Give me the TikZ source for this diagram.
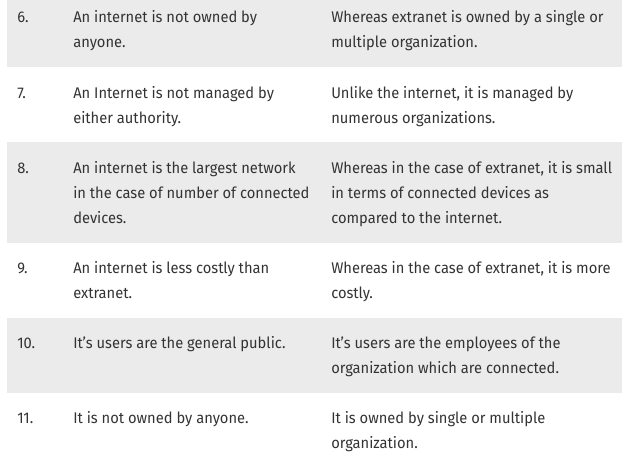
\documentclass[tikz,border=0pt]{standalone}
\usepackage{fontspec}
\setmainfont{Fira Sans}[FakeStretch=0.95]
\definecolor{rowgrey}{HTML}{EBEBEB}
\definecolor{txt}{HTML}{333333}
\tikzset{
  x=0.75pt, y=-0.75pt,
  cell/.style={anchor=base west, inner sep=0pt, text=txt, font=\fontsize{11.6}{18.75}\selectfont},
  band/.style={fill=rowgrey, draw=none}
}
\newcommand{\cellbox}[2]{\parbox[t]{#1pt}{\raggedright\fontsize{11.6}{18.75}\selectfont #2}}
\begin{document}
\begin{tikzpicture}
\useasboundingbox (0,0) rectangle (629,468);
% grey bands
\fill[band] (7,-8) rectangle (622,67);
\fill[band] (7,142) rectangle (622,243);
\fill[band] (7,318) rectangle (622,393);
% row 6
\node[cell] (n6) at (17,22) {6.};
\node[cell] (a6) at (73,22) {\cellbox{240}{An internet is not owned by\\anyone.}};
\node[cell] (b6) at (331,22) {\cellbox{290}{Whereas extranet is owned by a single or\\multiple organization.}};
% row 7
\node[cell] (n7) at (17,98) {7.};
\node[cell] (a7) at (73,98) {\cellbox{240}{An Internet is not managed by\\either authority.}};
\node[cell] (b7) at (331,98) {\cellbox{290}{Unlike the internet, it is managed by\\numerous organizations.}};
% row 8
\node[cell] (n8) at (17,173) {8.};
\node[cell] (a8) at (73,173) {\cellbox{240}{An internet is the largest network\\in the case of number of connected\\devices.}};
\node[cell] (b8) at (331,173) {\cellbox{290}{Whereas in the case of extranet, it is small\\in terms of connected devices as\\compared to the internet.}};
% row 9
\node[cell] (n9) at (17,273) {9.};
\node[cell] (a9) at (73,273) {\cellbox{240}{An internet is less costly than\\extranet.}};
\node[cell] (b9) at (331,273) {\cellbox{290}{Whereas in the case of extranet, it is more\\costly.}};
% row 10
\node[cell] (n10) at (17,348) {10.};
\node[cell] (a10) at (73,348) {\cellbox{240}{It’s users are the general public.}};
\node[cell] (b10) at (331,348) {\cellbox{290}{It’s users are the employees of the\\organization which are connected.}};
% row 11
\node[cell] (n11) at (17,423) {11.};
\node[cell] (a11) at (73,423) {\cellbox{240}{It is not owned by anyone.}};
\node[cell] (b11) at (331,423) {\cellbox{290}{It is owned by single or multiple\\organization.}};
\end{tikzpicture}
\end{document}
